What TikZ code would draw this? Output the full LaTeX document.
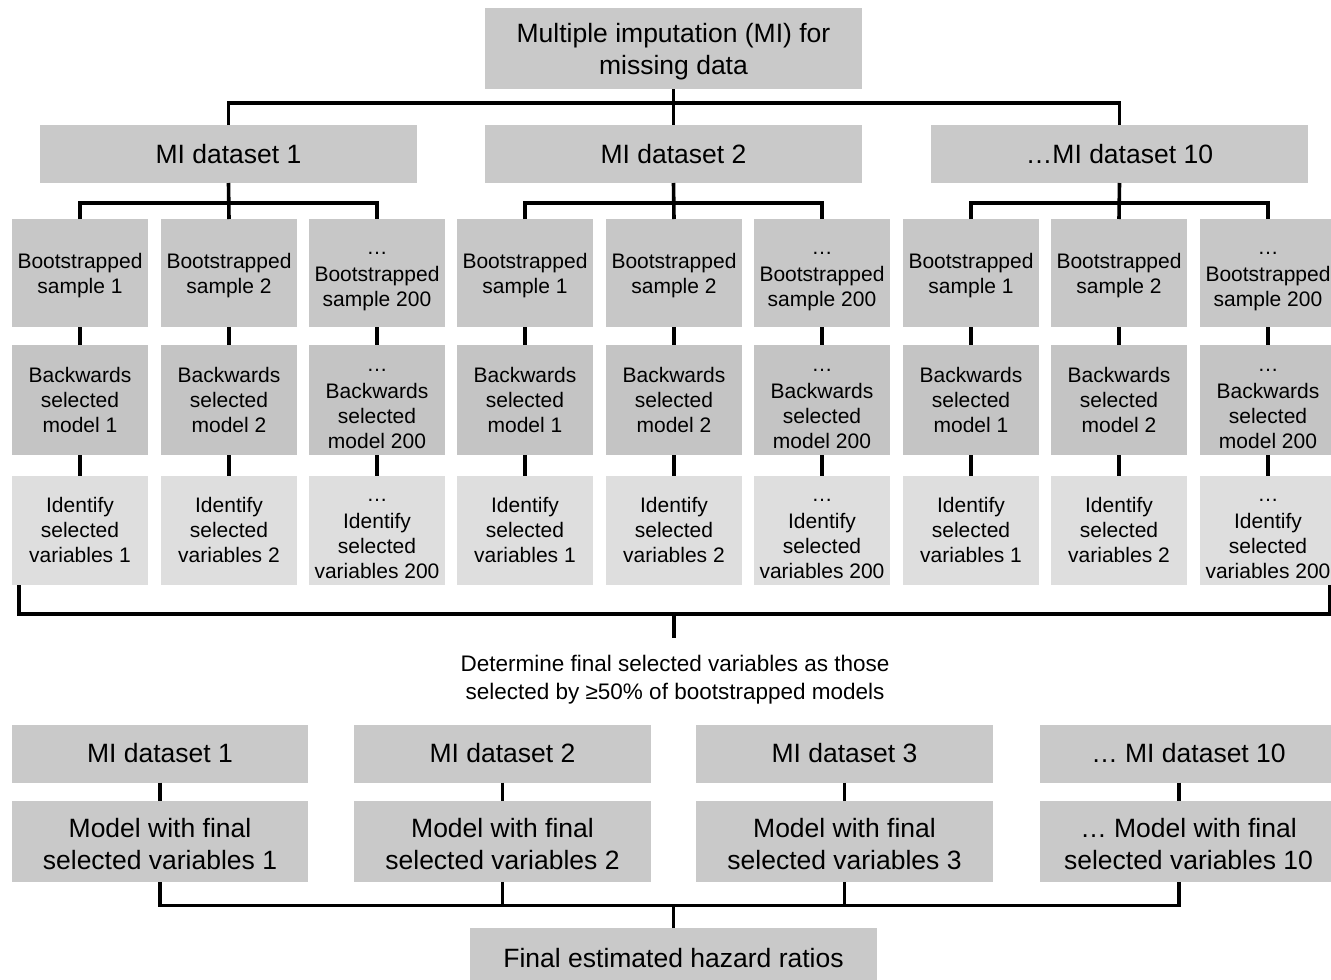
\documentclass[tikz,border=0pt]{standalone}
\usepackage{fontspec}
\setmainfont{Liberation Sans}
\definecolor{boxA}{RGB}{201,201,201}
\definecolor{boxB}{RGB}{199,199,199}
\definecolor{boxC}{RGB}{196,196,196}
\definecolor{boxD}{RGB}{222,222,222}
\newcommand{\hstrut}[1]{\rule{0pt}{#1pt}}
\tikzset{
  base/.style={rectangle, inner sep=0pt, outer sep=0pt, align=center, text=black},
  bigbox/.style={base, fill=boxA, font=\fontsize{26.5}{32}\selectfont},
  smallbox/.style={base, minimum width=136pt, font=\fontsize{21}{25}\selectfont},
  bootbox/.style={smallbox, fill=boxB, minimum height=108pt},
  backbox/.style={smallbox, fill=boxC, minimum height=110pt},
  identbox/.style={smallbox, fill=boxD, minimum height=109pt},
  conn/.style={line width=3.6pt, draw=black}
}
\begin{document}
\begin{tikzpicture}[x=1pt,y=-1pt]
\useasboundingbox (0,0) rectangle (1331,980);
\clip (0,0) rectangle (1331,980);

% top
\node[bigbox, minimum width=377pt, minimum height=81pt] (top) at (673.5,48.5) {\hstrut{25}Multiple imputation (MI) for\\missing data};
\node[bigbox, minimum width=377pt, minimum height=58pt] (mi1) at (228.5,154) {MI dataset 1};
\node[bigbox, minimum width=377pt, minimum height=58pt] (mi2) at (673.5,154) {MI dataset 2};
\node[bigbox, minimum width=377pt, minimum height=58pt] (mi3) at (1119.5,154) {\dots MI dataset 10};

% bootstrap rows
\foreach \i/\x/\n in {1/80/1, 2/229/2, 4/525/1, 5/674/2, 7/971/1, 8/1119/2}{
  \node[bootbox] (b\i) at (\x,273) {\hstrut{20}Bootstrapped\\sample \n};
  \node[backbox] (k\i) at (\x,400) {Backwards\\selected\\model \n};
  \node[identbox] (v\i) at (\x,530) {Identify\\selected\\variables \n};
}
\foreach \i/\x in {3/377, 6/822, 9/1268}{
  \node[bootbox] (b\i) at (\x,273) {\hstrut{20}\dots\\[2pt]Bootstrapped\\sample 200};
  \node[backbox] (k\i) at (\x,400) {\hstrut{20}\dots\\[2pt]Backwards\\selected\\model 200};
  \node[identbox] (v\i) at (\x,530) {\hstrut{20}\dots\\[2pt]Identify\\selected\\variables 200};
}

% connectors top
\draw[conn] (top.south) -- (mi2.north);
\draw[conn] (mi1.north) -- ++(0,-22) -| (mi3.north);
\draw[conn] (mi1.south) -- (b2.north);
\draw[conn] (b1.north) -- ++(0,-16) -| (b3.north);
\draw[conn] (mi2.south) -- (b5.north);
\draw[conn] (b4.north) -- ++(0,-16) -| (b6.north);
\draw[conn] (mi3.south) -- (b8.north);
\draw[conn] (b7.north) -- ++(0,-16) -| (b9.north);
\foreach \i in {1,...,9}{
  \draw[conn] (b\i.south) -- (k\i.north);
  \draw[conn] (k\i.south) -- (v\i.north);
}

% bracket
\coordinate (bl) at (19,585);
\coordinate (blc) at (19,614);
\coordinate (brc) at (1329.5,614);
\coordinate (br) at (1329.5,585);
\coordinate (tk) at (674,614);
\coordinate (tkend) at (674,638);
\draw[conn] (bl) -- (blc) -- (brc) -- (br);
\draw[conn] (tk) -- (tkend);
\node[base, font=\fontsize{22.5}{28}\selectfont] (det) at (675,680) {Determine final selected variables as those\\selected by ≥50\% of bootstrapped models};

% bottom
\node[bigbox, minimum width=296pt, minimum height=58pt] (bm1) at (160,753.5) {MI dataset 1};
\node[bigbox, minimum width=297pt, minimum height=58pt] (bm2) at (502.5,753.5) {MI dataset 2};
\node[bigbox, minimum width=297pt, minimum height=58pt] (bm3) at (844.5,753.5) {MI dataset 3};
\node[bigbox, minimum width=297pt, minimum height=58pt] (bm4) at (1188.5,753.5) {\dots{} MI dataset 10};
\node[bigbox, minimum width=296pt, minimum height=81pt] (md1) at (160,841.5) {\hstrut{23.5}Model with final\\selected variables 1};
\node[bigbox, minimum width=297pt, minimum height=81pt] (md2) at (502.5,841.5) {\hstrut{23.5}Model with final\\selected variables 2};
\node[bigbox, minimum width=297pt, minimum height=81pt] (md3) at (844.5,841.5) {\hstrut{23.5}Model with final\\selected variables 3};
\node[bigbox, minimum width=297pt, minimum height=81pt] (md4) at (1188.5,841.5) {\hstrut{23.5}\dots{} Model with final\\selected variables 10};
\node[bigbox, minimum width=407pt, minimum height=60pt] (fin) at (673.5,958) {Final estimated hazard ratios};

\draw[conn] (bm1.south) -- (md1.north);
\draw[conn] (bm2.south) -- (md2.north);
\draw[conn] (bm3.south) -- (md3.north);
\draw[conn] ([xshift=-9.5pt]bm4.south) -- ([xshift=-9.5pt]md4.north);
\draw[conn] (md1.south) -- ++(0,23.5) -| ([xshift=-9.5pt]md4.south);
\draw[conn] (md2.south) -- ++(0,23.5);
\draw[conn] (md3.south) -- ++(0,23.5);
\draw[conn] (fin.north) -- ++(0,-23.5);
\end{tikzpicture}
\end{document}
